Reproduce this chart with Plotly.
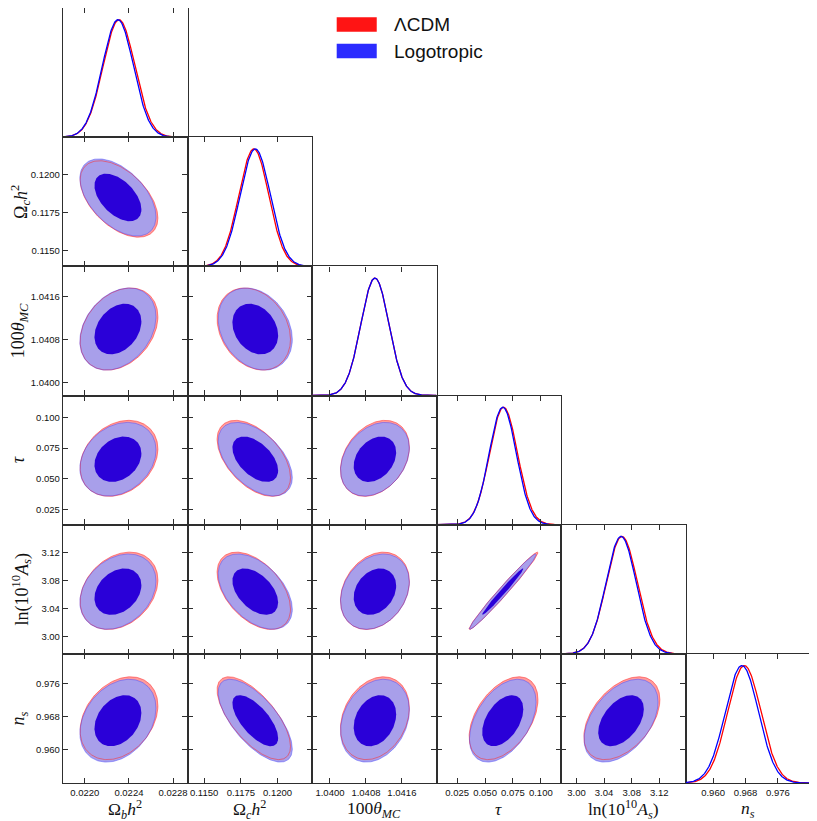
import numpy as np
import plotly.graph_objects as go
from plotly.subplots import make_subplots

# parameters (order of the triangle)
labels = ['Ω<sub><i>b</i></sub><i>h</i><sup>2</sup>',
          'Ω<sub><i>c</i></sub><i>h</i><sup>2</sup>',
          '100<i>θ</i><sub><i>MC</i></sub>',
          '<i>τ</i>',
          'ln(10<sup>10</sup><i>A</i><sub><i>s</i></sub>)',
          '<i>n</i><sub><i>s</i></sub>']

# marginal means / std devs
lcdm_mean = [0.02231, 0.11838, 1.04100, 0.0666, 3.0658, 0.9677]
logo_mean = [0.02230, 0.11848, 1.04100, 0.0659, 3.0646, 0.9671]
lcdm_sigma = [0.000144, 0.00102, 0.000313, 0.0126, 0.0225, 0.0041]
logo_sigma = [0.000141, 0.00103, 0.000313, 0.0122, 0.0219, 0.0041]

# correlation coefficients (lower triangle, row i vs col j)
corr = [
    [1.0],
    [-0.50, 1.0],
    [0.30, -0.25, 1.0],
    [0.25, -0.50, 0.30, 1.0],
    [0.28, -0.47, 0.25, 0.985, 1.0],
    [0.30, -0.68, 0.25, 0.45, 0.45, 1.0],
]

# axis ranges
x_ranges = [[0.021802, 0.022931], [0.11387, 0.12234], [1.0396, 1.04237],
            [0.0065, 0.1181], [2.9776, 3.158], [0.9532, 0.9839]]
y_ranges = [None, [0.11398, 0.12242], [1.03976, 1.04217],
            [0.0128, 0.1176], [2.976, 3.16], [0.952, 0.9833]]

tick_vals = [[0.0220, 0.0224, 0.0228], [0.1150, 0.1175, 0.1200],
             [1.0400, 1.0408, 1.0416], [0.025, 0.050, 0.075, 0.100],
             [3.00, 3.04, 3.08, 3.12], [0.960, 0.968, 0.976]]
tick_text = [['0.0220', '0.0224', '0.0228'], ['0.1150', '0.1175', '0.1200'],
             ['1.0400', '1.0408', '1.0416'], ['0.025', '0.050', '0.075', '0.100'],
             ['3.00', '3.04', '3.08', '3.12'], ['0.960', '0.968', '0.976']]

models = ['ΛCDM', 'Logotropic']
means = [lcdm_mean, logo_mean]
sigmas = [lcdm_sigma, logo_sigma]

n = len(labels)
k68 = np.sqrt(2.279)
k95 = np.sqrt(5.991)
t = np.linspace(0, 2 * np.pi, 200)

fill_cols = [('#ff9c9c', '#ff5c5c'), ('#a89fea', '#2a00d8')]
line_cols = ['rgba(255,40,40,0.75)', 'rgba(60,60,255,0.6)']
curve_cols = ['#ff0000', '#0000ff']


def ellipse(m, s, i, j, k):
    r = corr[i][j]
    x = m[j] + k * s[j] * np.cos(t)
    y = m[i] + k * s[i] * (r * np.cos(t) + np.sqrt(1 - r * r) * np.sin(t))
    return x, y


specs = [[{} if c <= r else None for c in range(n)] for r in range(n)]
fig = make_subplots(rows=n, cols=n, specs=specs,
                    horizontal_spacing=0, vertical_spacing=0)

for i in range(n):
    for j in range(i + 1):
        if i == j:
            xs = np.linspace(x_ranges[j][0], x_ranges[j][1], 300)
            for m, s, c in zip(means, sigmas, curve_cols):
                ys = np.exp(-0.5 * ((xs - m[j]) / s[j]) ** 2)
                fig.add_trace(go.Scatter(x=xs, y=ys, mode='lines',
                                         line=dict(color=c, width=1.3),
                                         showlegend=False, hoverinfo='skip'),
                              row=i + 1, col=j + 1)
            continue
        for mi in range(2):
            for k, fc in zip([k95, k68], fill_cols[mi]):
                ex, ey = ellipse(means[mi], sigmas[mi], i, j, k)
                fig.add_trace(go.Scatter(x=ex, y=ey, mode='lines', fill='toself',
                                         fillcolor=fc, line=dict(width=0),
                                         showlegend=False, hoverinfo='skip'),
                              row=i + 1, col=j + 1)
        # thin outlines on top
        for mi in range(2):
            ex, ey = ellipse(means[mi], sigmas[mi], i, j, k95)
            fig.add_trace(go.Scatter(x=ex, y=ey, mode='lines',
                                     line=dict(color=line_cols[mi], width=0.7),
                                     showlegend=False, hoverinfo='skip'),
                          row=i + 1, col=j + 1)

axis_style = dict(showline=True, linecolor='#2e2e2e', linewidth=1.4,
                  mirror='ticks', ticks='inside', ticklen=5, tickwidth=1,
                  tickcolor='#2e2e2e', showgrid=False, zeroline=False,
                  automargin=False, tickangle=0,
                  tickfont=dict(family='Liberation Sans', size=9.5, color='#111'))
title_font = dict(family='Liberation Serif', size=18, color='#111')

for i in range(n):
    for j in range(i + 1):
        fig.update_xaxes(range=x_ranges[j], tickvals=tick_vals[j],
                         ticktext=tick_text[j], showticklabels=(i == n - 1),
                         row=i + 1, col=j + 1, **axis_style)
        if i == j:
            fig.update_yaxes(range=[0, 1.1], showticklabels=False, ticks='',
                             showline=True, linecolor='#2e2e2e', linewidth=1.4,
                             mirror=True, showgrid=False, zeroline=False,
                             automargin=False, row=i + 1, col=j + 1)
        else:
            fig.update_yaxes(range=y_ranges[i], tickvals=tick_vals[i],
                             ticktext=tick_text[i], showticklabels=(j == 0),
                             row=i + 1, col=j + 1, **axis_style)
            if j == 0:
                fig.update_yaxes(title=dict(text=labels[i], font=title_font, standoff=8),
                                 row=i + 1, col=j + 1)

# bottom axis titles, placed under each bottom panel
bottom_font = dict(family='Liberation Serif', size=17.5, color='#111')
for j in range(n):
    fig.add_annotation(text=labels[j], x=0.5, y=-0.205, xref='x domain',
                       yref='y domain', showarrow=False, xanchor='center',
                       yanchor='middle', font=bottom_font, row=n, col=j + 1)

# legend (paper coords are relative to the plotting area)
leg_y = [0.9787, 0.9445]
leg_cols = ['#ff1414', '#2b2bff']
for name, yy, c in zip(models, leg_y, leg_cols):
    fig.add_shape(type='rect', xref='paper', yref='paper',
                  x0=0.3664, x1=0.42, y0=yy - 0.0093, y1=yy + 0.0093,
                  fillcolor=c, line=dict(width=0))
    fig.add_annotation(x=0.4404, y=yy, xref='paper', yref='paper', text=name,
                       showarrow=False, xanchor='left', yanchor='middle',
                       font=dict(family='Liberation Sans', size=19, color='#111'))

# page body has an 8px margin, so the figure is drawn slightly smaller
fig.update_layout(width=809, height=813, plot_bgcolor='white',
                  paper_bgcolor='white', showlegend=False,
                  margin=dict(l=55, r=7, t=0, b=38))

fig.write_html('out.html')
